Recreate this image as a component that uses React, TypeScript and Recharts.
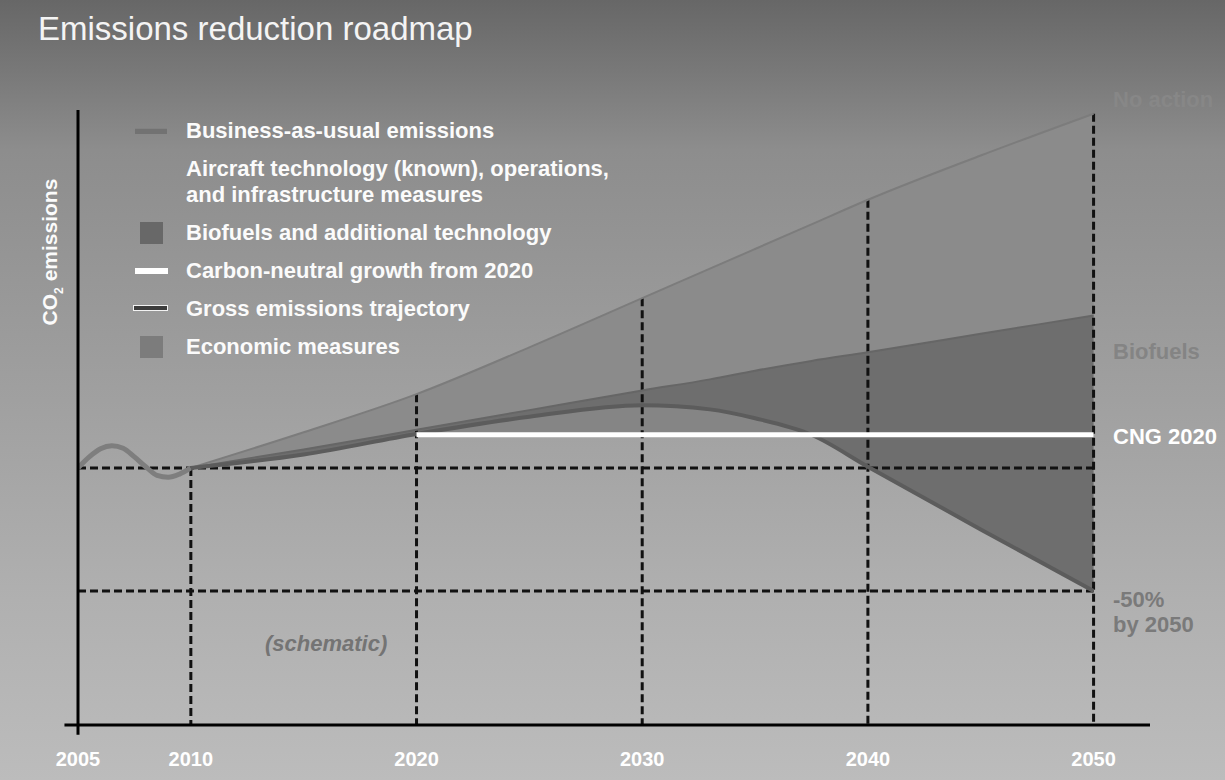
import React from "react"
import { ComposedChart, Area, Line, XAxis, YAxis, ReferenceLine } from "recharts"

const FONT = "'Liberation Sans', Arial, Helvetica, sans-serif"

// schematic chart: emissions indexed to 2005 = 100
const years = [2005, 2005.5, 2006, 2006.5, 2007, 2007.5, 2008, 2008.5, 2009, 2009.5, 2010, 2015, 2020, 2025, 2030, 2033, 2035, 2037.5, 2040, 2045, 2050]
const history = [100, 104.5, 107.8, 109, 108, 104.5, 100.5, 97, 96.2, 97.5, 100, null, null, null, null, null, null, null, null, null, null]
const bau = [null, null, null, null, null, null, null, null, null, null, 100, 114.5, 130, 149, 169, 181, 189, 199, 209, 227, 244]
const biofuels = [null, null, null, null, null, null, null, null, null, null, 100, 107.5, 115.5, 123.5, 131.5, 136, 139.5, 143.5, 147, 154.5, 162]
const gross = [null, null, null, null, null, null, null, null, null, null, 100, 105.5, 113.8, 120.8, 125.5, 123.8, 120.2, 113.5, 100.5, 75, 50]
const cng = [null, null, null, null, null, null, null, null, null, null, null, null, 113.5, 113.5, 113.5, 113.5, 113.5, 113.5, 113.5, 113.5, 113.5]

const xTicks = [2005, 2010, 2020, 2030, 2040, 2050]
const dropYears = [2010, 2020, 2030, 2040, 2050]
const levels = [100, 50] // 2005 level, -50% by 2050

const data = years.map((year, i) => ({
  year,
  history: history[i],
  bau: bau[i],
  bio: biofuels[i],
  gross: gross[i],
  cng: cng[i],
  aircraftBand: bau[i] != null ? [biofuels[i], bau[i]] : null,
  biofuelBand: gross[i] != null ? [gross[i], biofuels[i]] : null,
  economicBand: cng[i] != null && (gross[i] as number) >= (cng[i] as number) ? [cng[i], gross[i]] : null,
}))

const bauAt = (y: number) => bau[years.indexOf(y)] as number

const legendItems = [
  { lines: ["Business-as-usual emissions"], icon: "bau" },
  { lines: ["Aircraft technology (known), operations,", "and infrastructure measures"], icon: "none" },
  { lines: ["Biofuels and additional technology"], icon: "biofuel" },
  { lines: ["Carbon-neutral growth from 2020"], icon: "cng" },
  { lines: ["Gross emissions trajectory"], icon: "gross" },
  { lines: ["Economic measures"], icon: "economic" },
]

function LegendIcon({ type }: { type: string }) {
  if (type === "bau")
    return <div style={{ position: "absolute", left: 5, top: 10, width: 32, height: 5, background: "#727272", borderTop: "1px solid #828282" }} />
  if (type === "biofuel")
    return <div style={{ position: "absolute", left: 10, top: 2, width: 23, height: 22, background: "#686868" }} />
  if (type === "cng")
    return <div style={{ position: "absolute", left: 5, top: 10, width: 33, height: 6, background: "#ffffff" }} />
  if (type === "gross")
    return <div style={{ position: "absolute", left: 3, top: 9, width: 33, height: 4, background: "#3c3c3c", border: "1.5px solid #f2f2f2" }} />
  if (type === "economic")
    return <div style={{ position: "absolute", left: 10, top: 2, width: 23, height: 22, background: "#7c7c7c" }} />
  return null
}

function RoadmapLegend() {
  return (
    <div style={{ position: "absolute", left: 130, top: 118, width: 520 }}>
      {legendItems.map((item) => (
        <div key={item.lines[0]} style={{ position: "relative", marginBottom: 12 }}>
          <LegendIcon type={item.icon} />
          {item.lines.map((l) => (
            <div key={l} style={{ marginLeft: 56, height: 26, lineHeight: "26px", fontSize: 22, fontWeight: 700, color: "#fbfbfb", whiteSpace: "nowrap" }}>
              {l}
            </div>
          ))}
        </div>
      ))}
    </div>
  )
}

const sideLabel = (top: number, color: string, text: string, extra?: React.CSSProperties) => (
  <div style={{ position: "absolute", left: 1113, top, fontSize: 22, lineHeight: "22px", fontWeight: 700, color, whiteSpace: "nowrap", ...extra }}>
    {text}
  </div>
)

export default function App() {
  const dash = { stroke: "#111", strokeWidth: 3, strokeDasharray: "8 4" }
  return (
    <div
      style={{
        position: "absolute",
        left: 0,
        top: 0,
        width: 1225,
        height: 780,
        overflow: "hidden",
        fontFamily: FONT,
        background: "linear-gradient(180deg, #676767 0px, #787878 70px, #8d8d8d 150px, #a0a0a0 400px, #b0b0b0 600px, #bcbcbc 780px)",
      }}
    >
      <div style={{ position: "absolute", left: 38, top: 10, fontSize: 33, lineHeight: "38px", color: "#f4f4f4" }}>
        Emissions reduction roadmap
      </div>

      <ComposedChart
        width={1225}
        height={780}
        data={data}
        margin={{ top: 110, right: 75, bottom: 25, left: 78 }}
        style={{ position: "absolute", left: 0, top: 0 }}
      >
        <XAxis
          dataKey="year"
          type="number"
          domain={[2005, 2052.5]}
          ticks={xTicks}
          allowDataOverflow
          axisLine={false}
          tickLine={false}
          height={30}
          tickMargin={21}
          tick={{ fill: "#ffffff", fontSize: 20, fontWeight: 700, fontFamily: FONT }}
        />
        <YAxis hide type="number" domain={[-4.5, 245.5]} allowDataOverflow />

        <Area dataKey="aircraftBand" type="monotone" fill="#8b8b8b" fillOpacity={1} stroke="none" isAnimationActive={false} />
        <Area dataKey="biofuelBand" type="monotone" fill="#6e6e6e" fillOpacity={1} stroke="none" isAnimationActive={false} />
        <Area dataKey="economicBand" type="monotone" fill="#858585" fillOpacity={1} stroke="none" isAnimationActive={false} />

        {levels.map((lv) => (
          <ReferenceLine key={lv} segment={[{ x: 2005, y: lv }, { x: 2050, y: lv }]} {...dash} />
        ))}
        {dropYears.map((yr) => (
          <ReferenceLine key={yr} segment={[{ x: yr, y: bauAt(yr) }, { x: yr, y: -4.5 }]} {...dash} />
        ))}

        <Line dataKey="history" type="monotone" stroke="#7e7e7e" strokeWidth={5} dot={false} isAnimationActive={false} />
        <Line dataKey="bau" type="monotone" stroke="#7c7c7c" strokeWidth={2} dot={false} isAnimationActive={false} />
        <Line dataKey="bio" type="monotone" stroke="#666666" strokeWidth={2} dot={false} isAnimationActive={false} />
        <Line dataKey="gross" type="monotone" stroke="#5c5c5c" strokeWidth={4} dot={false} isAnimationActive={false} />
        <Line dataKey="cng" type="linear" stroke="#ffffff" strokeWidth={5} dot={false} isAnimationActive={false} />

        {/* axes */}
        <ReferenceLine segment={[{ x: 2004.4, y: -4.5 }, { x: 2052.5, y: -4.5 }]} stroke="#000" strokeWidth={3} ifOverflow="visible" />
        <ReferenceLine segment={[{ x: 2005, y: -8.5 }, { x: 2005, y: 245.5 }]} stroke="#000" strokeWidth={3} ifOverflow="visible" />
      </ComposedChart>

      <div
        style={{
          position: "absolute",
          left: 52,
          top: 252,
          transform: "translate(-50%, -50%) rotate(-90deg)",
          fontSize: 21,
          fontWeight: 700,
          color: "#fbfbfb",
          whiteSpace: "nowrap",
        }}
      >
        CO<sub style={{ fontSize: 12 }}>2</sub> emissions
      </div>

      <RoadmapLegend />

      {sideLabel(89, "#878787", "No action")}
      {sideLabel(341, "#848484", "Biofuels")}
      {sideLabel(426, "#ffffff", "CNG 2020")}
      {sideLabel(589, "#7a7a7a", "-50%")}
      {sideLabel(614, "#7a7a7a", "by 2050")}

      <div style={{ position: "absolute", left: 265, top: 631, fontSize: 22, fontWeight: 700, fontStyle: "italic", color: "#747474" }}>
        (schematic)
      </div>
    </div>
  )
}
